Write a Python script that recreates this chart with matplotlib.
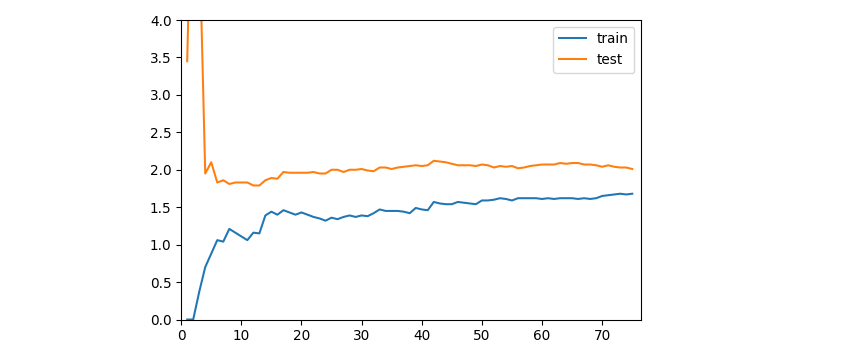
import numpy as np
import matplotlib.pyplot as plt

epochs = np.arange(1, 76)

train = [0.0, 0.0, 0.37, 0.70, 0.88, 1.06, 1.04, 1.21, 1.16, 1.11,
         1.06, 1.16, 1.15, 1.39, 1.44, 1.40, 1.46, 1.43, 1.40, 1.43,
         1.40, 1.37, 1.35, 1.32, 1.36, 1.34, 1.37, 1.39, 1.37, 1.39,
         1.38, 1.42, 1.47, 1.45, 1.45, 1.45, 1.44, 1.42, 1.49, 1.47,
         1.46, 1.57, 1.55, 1.54, 1.54, 1.57, 1.56, 1.55, 1.54, 1.59,
         1.59, 1.60, 1.62, 1.61, 1.59, 1.62, 1.62, 1.62, 1.62, 1.61,
         1.62, 1.61, 1.62, 1.62, 1.62, 1.61, 1.62, 1.61, 1.62, 1.65,
         1.66, 1.67, 1.68, 1.67, 1.68]

test = [3.45, 6.7, 5.2, 1.95, 2.10, 1.83, 1.86, 1.81, 1.83, 1.83,
        1.83, 1.79, 1.79, 1.86, 1.89, 1.88, 1.97, 1.96, 1.96, 1.96,
        1.96, 1.97, 1.95, 1.95, 2.00, 2.00, 1.97, 2.00, 2.00, 2.01,
        1.99, 1.98, 2.03, 2.03, 2.01, 2.03, 2.04, 2.05, 2.06, 2.05,
        2.06, 2.12, 2.11, 2.10, 2.08, 2.06, 2.06, 2.06, 2.05, 2.07,
        2.06, 2.03, 2.05, 2.04, 2.05, 2.02, 2.03, 2.05, 2.06, 2.07,
        2.07, 2.07, 2.09, 2.08, 2.09, 2.09, 2.07, 2.07, 2.06, 2.04,
        2.06, 2.04, 2.03, 2.03, 2.01]

dpi = 98
fig = plt.figure(figsize=(853/dpi, 351/dpi), dpi=dpi)
ax = fig.add_axes([0.2124, 0.0897, 0.5394, 0.8533])

ax.plot(epochs, train, label='train')
ax.plot(epochs, test, label='test')

ax.set_ylim(0, 4)
ax.set_xlim(0, 76.5)
ax.legend(loc='upper right')

fig.savefig('out.png', dpi=dpi)
